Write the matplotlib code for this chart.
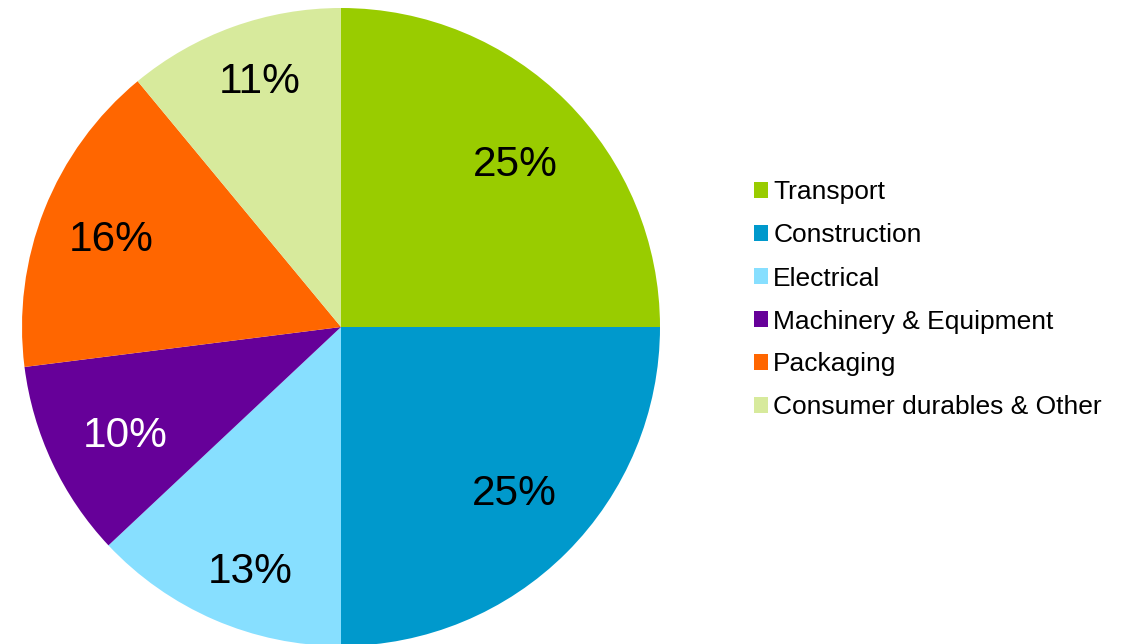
import matplotlib
matplotlib.use("Agg")
import matplotlib.pyplot as plt
from matplotlib.patches import Patch
import numpy as np

categories = ["Transport", "Construction", "Electrical", "Machinery & Equipment",
              "Packaging", "Consumer durables & Other"]
values = [25, 25, 13, 10, 16, 11]
colors = ["#99CC00", "#0099CC", "#87DFFF", "#660099", "#FF6600", "#D7EA9C"]
label_colors = ["black", "black", "black", "white", "black", "black"]
# label placement (style): radial distance and angular offset per slice
label_dist = [0.756, 0.745, 0.805, 0.753, 0.775, 0.821]
label_dang = [-1.2, 2.0, 2.6, 0.7, 0.0, -1.8]

plt.rcParams['font.family'] = ['Liberation Sans', 'DejaVu Sans']

W, H = 1134, 644
fig = plt.figure(figsize=(W / 100, H / 100), dpi=100)
cx, cy, r = 341, 327, 319
ax = fig.add_axes([(cx - r) / W, (H - cy - r) / H, 2 * r / W, 2 * r / H])

wedges, texts, autotexts = ax.pie(values, colors=colors, startangle=90, counterclock=False,
                                  autopct=lambda p: f"{p:.0f}%", pctdistance=0.77,
                                  radius=1.0, wedgeprops=dict(linewidth=0))
for w, t, c, d, da in zip(wedges, autotexts, label_colors, label_dist, label_dang):
    ang = np.deg2rad((w.theta1 + w.theta2) / 2 + da)
    t.set_position((d * np.cos(ang), d * np.sin(ang) - 0.014))
    t.set_color(c)
    t.set_fontsize(30.5)
ax.set_xlim(-1, 1)
ax.set_ylim(-1, 1)
ax.set_aspect('equal')
ax.axis('off')

handles = [Patch(facecolor=c, edgecolor='none') for c in colors]
fig.legend(handles, categories, loc='center left',
           bbox_to_anchor=(754 / W, (H - 300) / H), frameon=False,
           fontsize=19, handlelength=0.53, handleheight=0.53, handletextpad=0.2,
           labelspacing=0.72, borderpad=0, borderaxespad=0)

fig.savefig("out.png", dpi=100)
